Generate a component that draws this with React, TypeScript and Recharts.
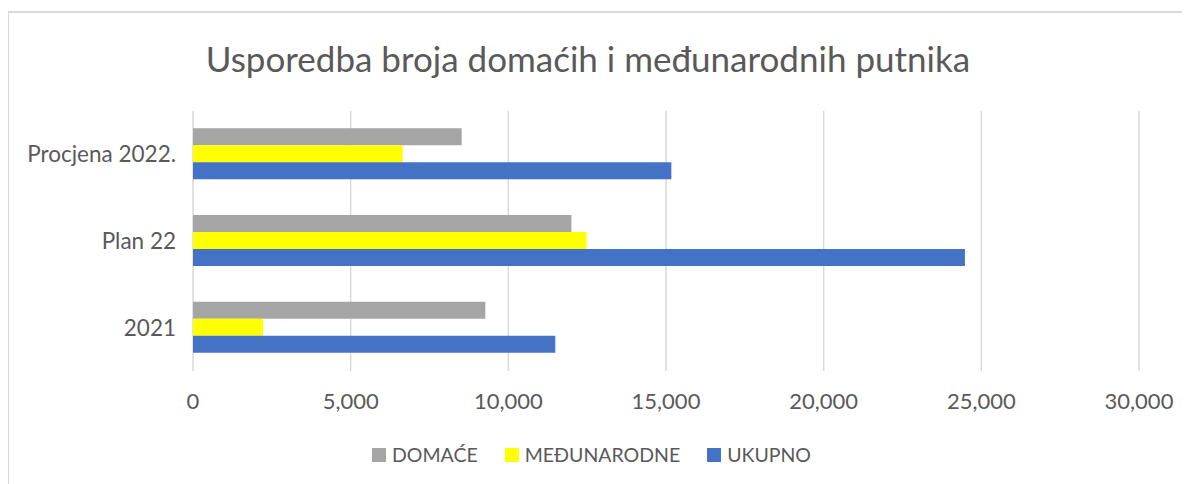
import { BarChart, Bar, XAxis, YAxis, CartesianGrid, Legend } from "recharts"

const categories = ["Procjena 2022.", "Plan 22", "2021"]
const domace = [8520, 12000, 9270]
const medunarodne = [6650, 12480, 2220]
const ukupno = [15170, 24480, 11490]
const xTicks = [0, 5000, 10000, 15000, 20000, 25000, 30000]

const series = [
  { key: "domace", name: "DOMAĆE", color: "#a5a5a5" },
  { key: "medunarodne", name: "MEĐUNARODNE", color: "#ffff00" },
  { key: "ukupno", name: "UKUPNO", color: "#4472c4" },
]

const data = categories.map((c, i) => ({
  name: c,
  domace: domace[i],
  medunarodne: medunarodne[i],
  ukupno: ukupno[i],
}))

const font = "Lato, 'Noto Sans', sans-serif"
const textColor = "#595959"

function LegendContent() {
  return (
    <div
      style={{
        display: "flex",
        justifyContent: "center",
        gap: 27,
        paddingTop: 10,
        fontFamily: font,
        fontSize: 19.5,
        color: textColor,
      }}
    >
      {series.map((s) => (
        <div key={s.key} style={{ display: "flex", alignItems: "center" }}>
          <span style={{ display: "inline-block", width: 14, height: 14, background: s.color, marginRight: 6 }} />
          {s.name}
        </div>
      ))}
    </div>
  )
}

export default function App() {
  return (
    <div
      style={{
        position: "relative",
        marginTop: 3,
        marginLeft: -1,
        borderTop: "2px solid #d9d9d9",
        borderLeft: "2px solid #d9d9d9",
        width: 1181,
        height: 471,
        background: "#fff",
      }}
    >
      <div
        style={{
          position: "absolute",
          top: 24,
          left: 0,
          width: 1158,
          textAlign: "center",
          fontFamily: font,
          fontSize: 35,
          color: textColor,
        }}
      >
        Usporedba broja domaćih i međunarodnih putnika
      </div>
      <BarChart
        width={1181}
        height={471}
        data={data}
        layout="vertical"
        margin={{ top: 98, right: 51, bottom: 0, left: 0 }}
        barCategoryGap="20%"
        barGap={0}
      >
        <CartesianGrid horizontal={false} stroke="#d9d9d9" strokeWidth={1.5} />
        <XAxis
          type="number"
          domain={[0, 30000]}
          ticks={xTicks}
          axisLine={false}
          tickLine={false}
          tickSize={0}
          tickMargin={22}
          height={62}
          tick={{ fill: textColor, fontSize: 22, fontFamily: font }}
          tickFormatter={(v: number) => v.toLocaleString("en-US")}
        />
        <YAxis
          type="category"
          dataKey="name"
          width={184}
          axisLine={false}
          tickLine={false}
          tickSize={0}
          tickMargin={17}
          tick={{ fill: textColor, fontSize: 22.5, fontFamily: font }}
        />
        <Legend
          verticalAlign="bottom"
          height={51}
          wrapperStyle={{ left: -8, width: 1181 }}
          content={<LegendContent />}
        />
        {series.map((s) => (
          <Bar key={s.key} dataKey={s.key} name={s.name} fill={s.color} isAnimationActive={false} />
        ))}
      </BarChart>
    </div>
  )
}
